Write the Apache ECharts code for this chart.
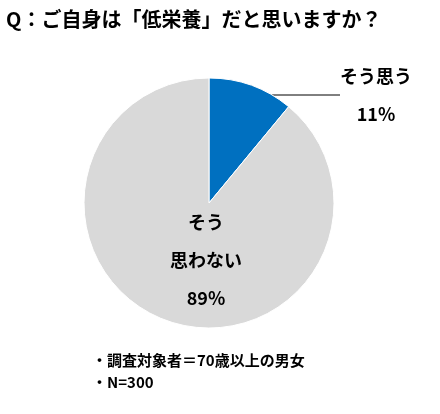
<!DOCTYPE html>
<html style="height: 100%">
<head>
    <meta charset="utf-8">
    <script src="https://cdn.jsdelivr.net/npm/echarts@6/dist/echarts.min.js"></script>
</head>
<body style="height:100%;margin:0;background:#fff">
    <div id="main" style="width:440px;height:414px;"></div>
    <script type="text/javascript">
        var names = ['そう思う', 'そう\n思わない'];
        var values = [11, 89];
        var colors = ['#0070C0', '#D9D9D9'];
        var titleText = 'Q：ご自身は「低栄養」だと思いますか？';
        var notes = ['・調査対象者＝70歳以上の男女', '・N=300'];

        var font = '"Noto Sans CJK JP", sans-serif';
        var myChart = echarts.init(document.getElementById('main'));

        var data = names.map(function (n, i) {
            var d = { name: n, value: values[i], itemStyle: { color: colors[i] } };
            if (i === 0) {
                d.label = { position: 'outside' };
                d.labelLine = { show: true, length: 20, length2: 70, lineStyle: { color: '#000', width: 1 } };
            } else {
                d.label = { position: 'center', offset: [-3, 57] };
                d.labelLine = { show: false };
            }
            return d;
        });

        var option = {
            animation: false,
            graphic: [
                { type: 'text', left: 6, top: 9, style: { text: titleText, font: 'bold 20px ' + font, fill: '#000' } },
                { type: 'text', left: 92, top: 349, style: { text: notes.join('\n'), font: 'bold 15px ' + font, lineHeight: 22, fill: '#000' } }
            ],
            series: [{
                type: 'pie',
                center: [209, 203],
                radius: [0, 125],
                startAngle: 90,
                clockwise: true,
                data: data,
                itemStyle: { borderColor: '#fff', borderWidth: 1 },
                label: {
                    formatter: function (p) { return p.name + '\n' + p.value + '%'; },
                    fontFamily: font,
                    fontWeight: 'bold',
                    fontSize: 18,
                    color: '#000',
                    lineHeight: 38,
                    align: 'center'
                },
                labelLayout: function (params) {
                    if (params.dataIndex === 0) {
                        return { x: 376, y: 95, align: 'center', verticalAlign: 'middle' };
                    }
                }
            }]
        };
        myChart.setOption(option);
    </script>
</body>
</html>
